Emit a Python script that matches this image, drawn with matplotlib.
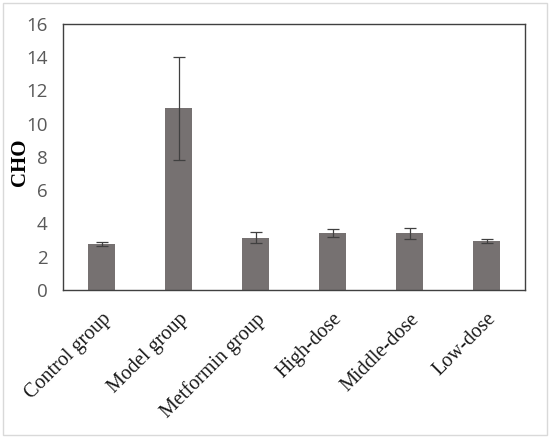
import numpy as np
import matplotlib.pyplot as plt
from matplotlib.patches import Rectangle

groups = ['Control group', 'Model group', 'Metformin group', 'High-dose', 'Middle-dose', 'Low-dose']
cho = [2.77, 10.94, 3.15, 3.41, 3.41, 2.97]
cho_err = [0.10, 3.10, 0.32, 0.25, 0.32, 0.12]
yticks = np.arange(0, 17, 2)

fig = plt.figure(figsize=(5.5, 4.37), dpi=100)
ax = fig.add_axes([63/550, 1 - 290/437, 462/550, 266/437])

x = np.arange(len(groups))
ax.bar(x, cho, width=0.36, color='#767171', zorder=2)
ax.errorbar(x, cho, yerr=cho_err, fmt='none', ecolor='#404040', elinewidth=0.9,
            capsize=4, capthick=0.9, zorder=3)

ax.set_xlim(-0.5, len(groups) - 0.5)
ax.set_ylim(0, 16)
ax.set_yticks(yticks)
ax.set_yticklabels([str(t) for t in yticks], fontsize=13.5, color='#595959', family='Open Sans')
ax.set_xticks(x)
ax.set_xticklabels(groups, rotation=45, ha='right', rotation_mode='anchor',
                   fontsize=14.5, family='Liberation Serif', color='#1a1a1a')
ax.tick_params(axis='both', length=0)
ax.tick_params(axis='y', pad=11)
ax.tick_params(axis='x', pad=14)
ax.set_ylabel('CHO', fontsize=15, family='Liberation Serif', fontweight='bold')
ax.yaxis.set_label_coords(-0.071, 0.48)

for s in ax.spines.values():
    s.set_color('#404040')
    s.set_linewidth(1.0)

fig.patches.append(Rectangle((3/550, 2/437), 544/550, 432/437, transform=fig.transFigure,
                             fill=False, edgecolor='#d9d9d9', linewidth=1.0))

fig.savefig('out.png', dpi=100)
